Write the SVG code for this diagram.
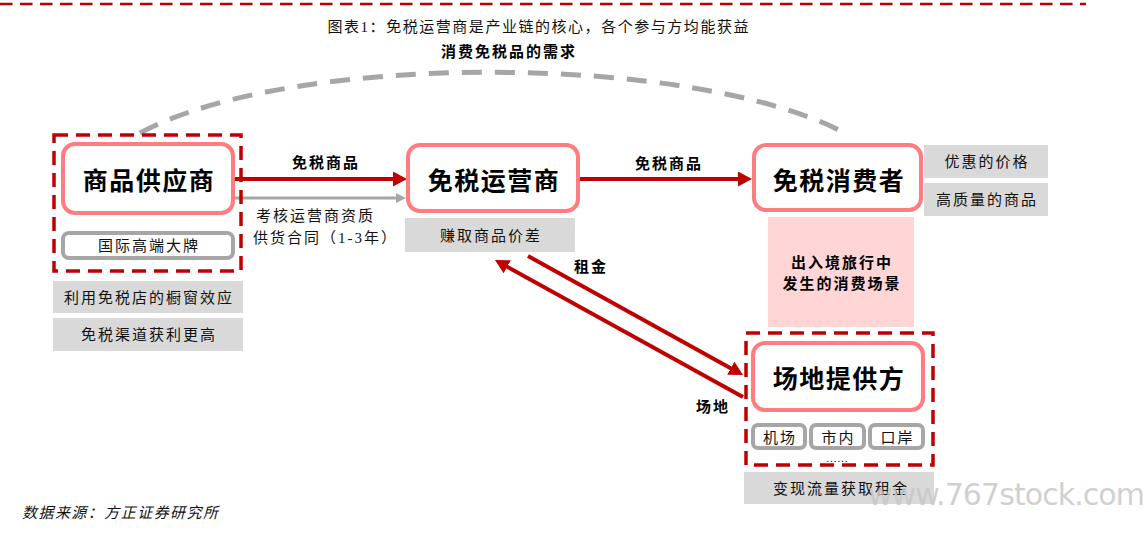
<svg xmlns="http://www.w3.org/2000/svg" width="1145" height="538" viewBox="0 0 1145 538">
<style>
.t{font-family:"Liberation Serif","Noto Sans CJK SC",serif;font-size:15px;fill:#111;letter-spacing:2px;text-anchor:middle;dominant-baseline:central}
.b{font-family:"Liberation Serif","Noto Sans CJK SC",serif;font-size:15px;font-weight:bold;fill:#000;letter-spacing:2px;text-anchor:middle;dominant-baseline:central}
.big{font-family:"Noto Sans CJK SC",sans-serif;font-size:25px;font-weight:bold;fill:#000;letter-spacing:1.5px;text-anchor:middle;dominant-baseline:central}
.node{fill:#fff;stroke:#FF7C80;stroke-width:4}
.dbox{fill:none;stroke:#C00000;stroke-width:3.5;stroke-dasharray:14 8}
.gbox{fill:#fff;stroke:#A6A6A6;stroke-width:4}
.gfill{fill:#D9D9D9}
.red{stroke:#C00000;stroke-width:4;fill:none}
</style>
<defs>
<marker id="ar" markerUnits="userSpaceOnUse" markerWidth="15" markerHeight="16" refX="3" refY="7.5" orient="auto">
<path d="M0,0 L14,7.5 L0,15 z" fill="#C00000"/>
</marker>
<marker id="ag" markerUnits="userSpaceOnUse" markerWidth="11" markerHeight="11" refX="2" refY="5" orient="auto">
<path d="M0,0 L10,5 L0,10 z" fill="#A6A6A6"/>
</marker>
</defs>
<rect width="1145" height="538" fill="#fff"/>
<line x1="0" y1="4" x2="1086" y2="4" stroke="#C00000" stroke-width="2.5" stroke-dasharray="12.5 7.5"/>
<text class="t" x="539" y="27" textLength="423" letter-spacing="0">图表1：免税运营商是产业链的核心，各个参与方均能获益</text>

<g id="connectors">
<path d="M140,133 C290,52 690,52 845,133" fill="none" stroke="#A6A6A6" stroke-width="5" stroke-dasharray="20 13"/>
<text class="b" x="509" y="52">消费免税品的需求</text>
<line class="red" x1="235" y1="179" x2="396" y2="179" marker-end="url(#ar)"/>
<text class="b" x="326" y="163">免税商品</text>
<line x1="235" y1="198" x2="398" y2="198" stroke="#A6A6A6" stroke-width="3" marker-end="url(#ag)"/>
<text class="t" x="256" y="216" style="text-anchor:start">考核运营商资质</text>
<text class="t" x="253" y="238" style="text-anchor:start" letter-spacing="1">供货合同（1-3年）</text>
<line class="red" x1="580" y1="179" x2="741" y2="179" marker-end="url(#ar)"/>
<text class="b" x="669" y="164">免税商品</text>
<line class="red" x1="528" y1="256" x2="733.4" y2="369.7" marker-end="url(#ar)"/>
<text class="b" x="591" y="267">租金</text>
<line class="red" x1="743" y1="397" x2="504.6" y2="265.3" marker-end="url(#ar)"/>
<text class="b" x="713" y="407">场地</text>
</g>

<g id="supplier">
<rect class="dbox" x="54" y="135" width="187" height="136"/>
<rect class="node" x="63" y="144" width="170" height="69" rx="12"/>
<text class="big" x="149" y="179">商品供应商</text>
<rect class="gbox" x="63" y="233" width="170" height="25" rx="6"/>
<text class="t" x="149" y="245.5">国际高端大牌</text>
<rect class="gfill" x="53" y="281" width="190" height="32"/>
<text class="t" x="149" y="297.5">利用免税店的橱窗效应</text>
<rect class="gfill" x="53" y="318" width="190" height="33"/>
<text class="t" x="149" y="335">免税渠道获利更高</text>
</g>

<g id="operator">
<rect class="node" x="408" y="145" width="170" height="66" rx="12"/>
<text class="big" x="494" y="179">免税运营商</text>
<rect class="gfill" x="405" y="218" width="170" height="34"/>
<text class="t" x="491" y="236">赚取商品价差</text>
</g>

<g id="consumer">
<rect class="node" x="754" y="145" width="167" height="65" rx="12"/>
<text class="big" x="839" y="179">免税消费者</text>
<rect class="gfill" x="924" y="145" width="124" height="33"/>
<text class="t" x="987" y="161.5">优惠的价格</text>
<rect class="gfill" x="924" y="183" width="124" height="33"/>
<text class="t" x="987" y="199.5">高质量的商品</text>
<rect x="768" y="217" width="146" height="110" fill="#FFD5D5"/>
<text class="b" x="842" y="263">出入境旅行中</text>
<text class="b" x="842" y="284">发生的消费场景</text>
</g>

<g id="venue">
<rect class="dbox" x="746" y="333" width="187" height="132"/>
<rect class="node" x="753" y="343" width="170" height="67" rx="12"/>
<text class="big" x="839" y="377">场地提供方</text>
<rect class="gbox" x="753" y="425" width="52" height="23" rx="5"/>
<text class="t" x="780" y="437.5">机场</text>
<rect class="gbox" x="811" y="425" width="53" height="23" rx="5"/>
<text class="t" x="838.5" y="437.5">市内</text>
<rect class="gbox" x="870" y="425" width="53" height="23" rx="5"/>
<text class="t" x="897.5" y="437.5">口岸</text>
<text x="837" y="462" font-family="Liberation Serif, serif" font-size="11" fill="#000" text-anchor="middle">……</text>
<rect class="gfill" x="744" y="472" width="190" height="32"/>
<text class="t" x="841" y="489">变现流量获取租金</text>
</g>

<text x="868" y="505" font-family="DejaVu Sans, sans-serif" font-size="30" fill="#C8C8C8" fill-opacity="0.85" textLength="277">www.767stock.com</text>
<text class="t" x="22" y="513" style="text-anchor:start;font-style:italic" textLength="198" letter-spacing="0">数据来源：方正证券研究所</text>
</svg>
